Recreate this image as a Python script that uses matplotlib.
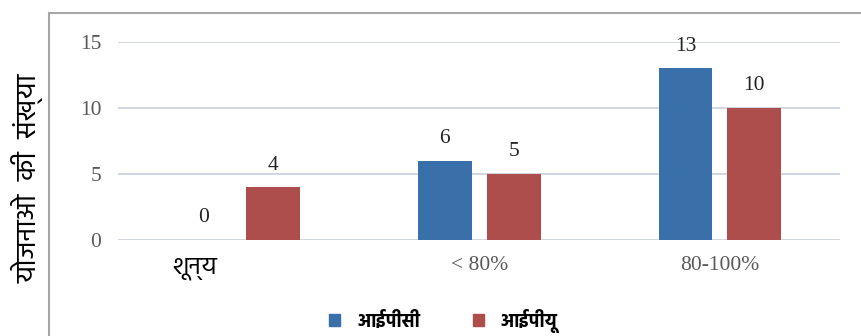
import matplotlib
matplotlib.use("Agg")
import matplotlib.pyplot as plt
import numpy as np
from matplotlib import font_manager
from matplotlib.patches import Rectangle
from matplotlib.transforms import blended_transform_factory

categories = ["शून्य", "< 80%", "80-100%"]
series_names = ["आईपीसी", "आईपीयू"]
ipc = [0, 6, 13]
ipu = [4, 5, 10]
yticks = [0, 5, 10, 15]
ylabel = "योजनाओ  की  संख्या"

# pick an installed devanagari font that also has a bold face
weights = {}
for f in font_manager.fontManager.ttflist:
    weights.setdefault(f.name, set()).add(f.weight)
deva = "DejaVu Sans"
for cand in ["Hind", "Mukta", "Noto Sans Devanagari", "Poppins", "Karma", "Biryani", "Ek Mukta", "Arya"]:
    if cand in weights and max(weights[cand]) >= 700:
        deva = cand
        break
serif = "Liberation Serif"

blue = "#3a70aa"
red = "#ae4e4c"
grid_c = "#c8d0dc"
gray = "#595959"

fig = plt.figure(figsize=(8.61, 3.36), dpi=100)
ax = fig.add_axes([0.137, 0.286, 0.839, 0.589])

x = np.arange(len(categories))
w = 0.224
off = 0.143
b1 = ax.bar(x - off, ipc, w, color=blue, zorder=3)
b2 = ax.bar(x + off, ipu, w, color=red, zorder=3)

for bars, vals in [(b1, ipc), (b2, ipu)]:
    for r, v in zip(bars, vals):
        ax.annotate(str(v), (r.get_x() + r.get_width() / 2, v), xytext=(0, 9),
                    textcoords="offset points", ha="center", va="bottom",
                    fontsize=15.5, family=serif, color="#222222")

ax.set_xlim(-0.5, 2.5)
ax.set_ylim(0, 15)
ax.set_yticks(yticks)
ax.set_yticklabels([str(t) for t in yticks], family=serif, fontsize=15.5, color=gray)
ax.tick_params(axis="y", length=0, pad=12)
ax.set_xticks([])
ax.grid(axis="y", color=grid_c, lw=1.2, zorder=0)
for s in ax.spines.values():
    s.set_visible(False)

# category labels
tr = blended_transform_factory(ax.transData, ax.transAxes)
ax.text(x[0] - 0.18, -0.085, categories[0], transform=tr, ha="center", va="top",
        family=[deva, "DejaVu Sans"], fontsize=18, color="black")
for i in [1, 2]:
    ax.text(x[i], -0.08, categories[i], transform=tr, ha="center", va="top",
            family=serif, fontsize=15.5, color=gray)

fig.text(0.032, 0.47, ylabel, rotation=90, ha="center", va="center",
         family=[deva, "DejaVu Sans"], fontsize=20, color="black")

# outer border
fig.patches.append(Rectangle((49 / 861, -0.1), 1.0, 1 - 13 / 336 + 0.1,
                             transform=fig.transFigure, fill=False,
                             edgecolor="#a6a6a6", lw=1.5))

h1 = Rectangle((0, 0), 1, 1, color=blue)
h2 = Rectangle((0, 0), 1, 1, color=red)
fig.legend([h1, h2], series_names, loc="lower center", bbox_to_anchor=(0.515, -0.04),
           ncol=2, frameon=False, handlelength=0.6, handleheight=0.6,
           columnspacing=2.8, handletextpad=0.9,
           prop={"family": [deva, "DejaVu Sans"], "size": 13.5, "weight": "bold"})

fig.savefig("out.png", dpi=100)
